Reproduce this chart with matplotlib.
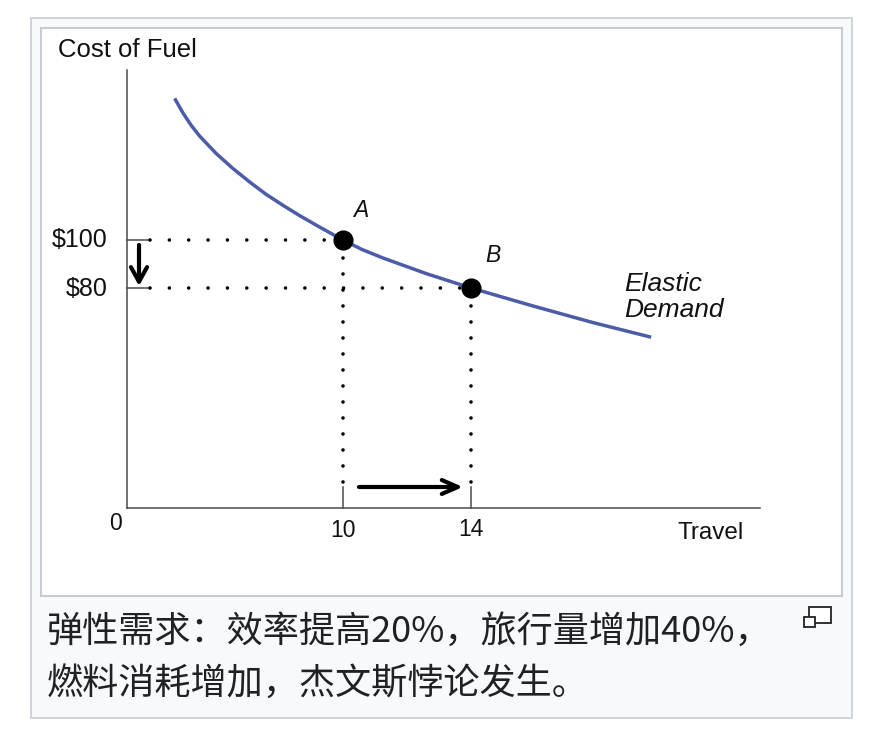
import matplotlib
matplotlib.use("Agg")
import matplotlib.pyplot as plt
from matplotlib.patches import Rectangle, FancyArrowPatch

# ---------------- data ----------------
travel_curve = [4.74, 5.00, 5.26, 5.52, 6.04, 6.56, 7.08, 7.60, 8.13, 8.64, 9.32,
                10.0, 10.60, 11.25, 12.60, 14.0, 15.94, 17.81, 19.63]
cost_curve = [159.0, 152.9, 147.7, 143.3, 136.0, 129.8, 124.2, 119.0, 114.4, 110.2, 105.0,
              100.0, 96.0, 92.5, 86.0, 80.0, 72.5, 65.6, 59.5]
point_names = ["A", "B"]
point_travel = [10, 14]
point_cost = [100, 80]
price_labels = ["$100", "$80"]
travel_labels = ["10", "14"]
x_title = "Travel"
y_title = "Cost of Fuel"
curve_label = ["Elastic", "Demand"]
caption = ["弹性需求：效率提高20%，旅行量增加40%，",
           "燃料消耗增加，杰文斯悖论发生。"]

W, H = 882, 744
def fx(px): return px / W
def fy(py): return 1 - py / H

LATIN = ["Liberation Sans", "DejaVu Sans"]
CJK = ["Noto Sans CJK SC", "DejaVu Sans"]

fig = plt.figure(figsize=(W / 100, H / 100), dpi=100)
fig.patch.set_facecolor("white")

# frames (wiki thumbnail look)
fig.patches.append(Rectangle((fx(31), fy(718)), fx(852) - fx(31), fy(18) - fy(718),
                             transform=fig.transFigure, facecolor="#f8f9fa",
                             edgecolor="#c8ccd1", lw=1.2, zorder=-20))
fig.patches.append(Rectangle((fx(41), fy(596)), fx(842) - fx(41), fy(28) - fy(596),
                             transform=fig.transFigure, facecolor="white",
                             edgecolor="#c8ccd1", lw=1.5, zorder=-10))

# axes: 10 -> px 343, 14 -> px 471 ; 100 -> py 240, 80 -> py 288
xpx = 32.0
ypx = 2.4
x0, x1 = 10 + (127 - 343) / xpx, 10 + (760 - 343) / xpx
y0, y1 = 100 - (508 - 240) / ypx, 100 + (240 - 70) / ypx
ax = fig.add_axes([fx(127), fy(508), fx(760) - fx(127), fy(70) - fy(508)])
ax.set_zorder(2)
ax.patch.set_visible(False)
ax.set_xlim(x0, x1)
ax.set_ylim(y0, y1)
for s in ["top", "right"]:
    ax.spines[s].set_visible(False)
for s in ["left", "bottom"]:
    ax.spines[s].set_color("#4a4a4a")
    ax.spines[s].set_linewidth(1.1)
ax.set_xticks([])
ax.set_yticks([])

axis_col = "#4a4a4a"
x_tick_end = 10 + (150 - 343) / xpx
y_tick_top = 100 - (487 - 240) / ypx
y_dot_bottom = 100 - (482 - 240) / ypx

# curve
ax.plot(travel_curve, cost_curve, color="#4c5ca8", lw=2.5, solid_capstyle="butt",
        solid_joinstyle="round", zorder=3)

price_baselines = [247, 296]
for name, tx, cy, plab, pb in zip(point_names, point_travel, point_cost, price_labels, price_baselines):
    # tick stubs
    ax.plot([x0, x_tick_end], [cy, cy], color=axis_col, lw=1.1, clip_on=False)
    ax.plot([tx, tx], [y0, y_tick_top], color=axis_col, lw=1.1, clip_on=False)
    # dotted guides
    ax.plot([x_tick_end, tx], [cy, cy], color="black", lw=2.6,
            linestyle=(0, (0.01, 5.35)), dash_capstyle="round", zorder=2)
    ax.plot([tx, tx], [y_dot_bottom, cy], color="black", lw=2.6,
            linestyle=(0, (0.01, 4.42)), dash_capstyle="round", zorder=2)
    # point
    ax.plot([tx], [cy], marker="o", ms=13.5, color="black", zorder=4)
    # price label
    fig.text(fx(108), fy(pb), plab.replace("$", r"\$"),
             ha="right", va="baseline", fontsize=18, family=LATIN, color="#111")

fig.text(fx(343), fy(537), travel_labels[0], ha="center", va="baseline", fontsize=16.5, family=LATIN, color="#111")
fig.text(fx(471), fy(536), travel_labels[1], ha="center", va="baseline", fontsize=16.5, family=LATIN, color="#111")
fig.text(fx(116), fy(530), "0", ha="center", va="baseline", fontsize=16.5, family=LATIN, color="#111")
fig.text(fx(677), fy(539), x_title, ha="left", va="baseline", fontsize=17.5, family=LATIN, color="#111")
fig.text(fx(58), fy(57), y_title, ha="left", va="baseline", fontsize=18.5, family=LATIN, color="#111")
fig.text(fx(353), fy(217), point_names[0], ha="left", va="baseline", fontsize=16.5,
         family=LATIN, style="italic", color="#111")
fig.text(fx(485), fy(262), point_names[1], ha="left", va="baseline", fontsize=16.5,
         family=LATIN, style="italic", color="#111")
fig.text(fx(624), fy(291), curve_label[0], ha="left", va="baseline", fontsize=19,
         family=LATIN, style="italic", color="#111")
fig.text(fx(624), fy(317), curve_label[1], ha="left", va="baseline", fontsize=19,
         family=LATIN, style="italic", color="#111")

# arrows
ax.add_patch(FancyArrowPatch((10 + (359 - 343) / xpx, y_tick_top),
                             (10 + (463 - 343) / xpx, y_tick_top),
                             arrowstyle="->,head_length=11.5,head_width=5", mutation_scale=1,
                             lw=3.0, color="black", clip_on=False, shrinkA=0, shrinkB=0))
ax.add_patch(FancyArrowPatch((10 + (139 - 343) / xpx, 100 - (245 - 240) / ypx),
                             (10 + (139 - 343) / xpx, 100 - (286 - 240) / ypx),
                             arrowstyle="->,head_length=10.5,head_width=5.8", mutation_scale=1,
                             lw=3.0, color="black", clip_on=False, shrinkA=0, shrinkB=0))

# caption
fig.text(fx(47), fy(642), caption[0], ha="left", va="baseline", fontsize=26, family=CJK, color="#202122")
fig.text(fx(47), fy(695), caption[1], ha="left", va="baseline", fontsize=26, family=CJK, color="#202122")

# enlarge icon
fig.patches.append(Rectangle((fx(809), fy(623)), fx(831) - fx(809), fy(607) - fy(623),
                             transform=fig.transFigure, facecolor="white",
                             edgecolor="#222", lw=1.3, zorder=5))
fig.patches.append(Rectangle((fx(804), fy(627)), fx(815) - fx(804), fy(617) - fy(627),
                             transform=fig.transFigure, facecolor="white",
                             edgecolor="#222", lw=1.3, zorder=6))

fig.savefig("out.png", dpi=100)
